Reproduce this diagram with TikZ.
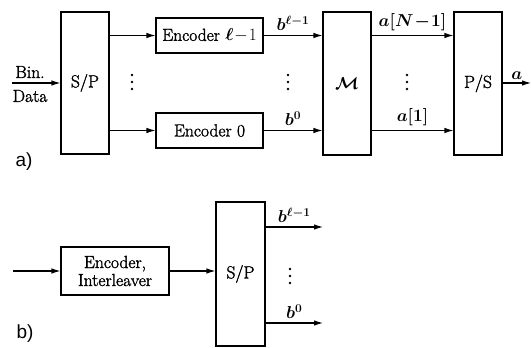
\documentclass[tikz,border=0pt]{standalone}
\usepackage{fontspec}
\usepackage{amsmath}
\newfontfamily\thickrm{Latin Modern Roman}[FakeBold=1.6]
\newfontfamily\labfont{Liberation Sans}
\usetikzlibrary{arrows.meta}
\begin{document}
\begin{tikzpicture}[x=1pt,y=-1pt,
  every node/.style={font=\fontsize{17.5}{19}\selectfont\thickrm, inner sep=0pt},
  blk/.style={draw, line width=1.1pt, rectangle},
  conn/.style={line width=1.1pt, -{Latex[length=9pt,width=5.5pt]}},
  lbl/.style={font=\fontsize{19}{21}\selectfont\labfont},
  vdot/.style={fill, circle, minimum size=2.6pt, inner sep=0pt}]
\useasboundingbox (0,0) rectangle (531,348);
% ---------- a) ----------
\node[blk, minimum width=48pt, minimum height=142pt] (sp) at (85,83) {S/P};
\node[blk, minimum width=107pt, minimum height=35pt] (e1) at (209.5,35.5) {Encoder $\boldsymbol{\ell}\!-\!1$};
\node[blk, minimum width=107pt, minimum height=35pt] (e0) at (209.5,130.5) {Encoder 0};
\node[blk, minimum width=48pt, minimum height=143pt] (m) at (347,83.5) {$\boldsymbol{\mathcal{M}}$};
\node[blk, minimum width=48pt, minimum height=143pt] (ps) at (478,83.5) {P/S};
\coordinate (in) at (12,83);
\coordinate (out) at (531,83);
\node (bin) at (30,72) {Bin.};
\node (data) at (30,96) {Data};
\draw[conn] (in) -- (sp.west |- in);
\draw[conn] (sp.east |- e1.west) -- (e1.west);
\draw[conn] (sp.east |- e0.west) -- (e0.west);
\draw[conn] (e1.east) -- node[above=4pt] (b1) {$\boldsymbol{b^{\ell-1}}$} (m.west |- e1.east);
\draw[conn] (e0.east) -- node[above=4pt] (b0) {$\boldsymbol{b^{0}}$} (m.west |- e0.east);
\draw[conn] (m.east |- e1.east) -- node[above=4pt] (aN) {$\boldsymbol{a[N\!-\!1]}$} (ps.west |- e1.east);
\draw[conn] (m.east |- e0.east) -- node[above=4pt] (a1) {$\boldsymbol{a[1]}$} (ps.west |- e0.east);
\draw[conn] (ps.east |- out) -- node[above=3pt] (aout) {$\boldsymbol{a}$} (out);
\foreach \x/\n in {132/d1,288/d2,407/d3}{
  \node[vdot] (\n a) at (\x,75) {};
  \node[vdot] (\n b) at (\x,82) {};
  \node[vdot] (\n c) at (\x,89) {};
}
\node[lbl] (la) at (24,162) {a)};
% ---------- b) ----------
\node[blk, minimum width=108pt, minimum height=48pt, align=center] (enc) at (115,271) {Encoder,\\[-1pt]Interleaver};
\node[blk, minimum width=49pt, minimum height=144pt] (spb) at (240.5,274) {S/P};
\coordinate (inb) at (13,271);
\coordinate (ob1) at (323,227);
\coordinate (ob0) at (323,323);
\draw[conn] (inb) -- (enc.west);
\draw[conn] (enc.east) -- (spb.west |- enc.east);
\draw[conn] (spb.east |- ob1) -- node[above=4pt] (bb1) {$\boldsymbol{b^{\ell-1}}$} (ob1);
\draw[conn] (spb.east |- ob0) -- node[above=4pt] (bb0) {$\boldsymbol{b^{0}}$} (ob0);
\node[vdot] (d4a) at (290,269) {};
\node[vdot] (d4b) at (290,276) {};
\node[vdot] (d4c) at (290,283) {};
\node[lbl] (lb) at (25,334) {b)};
\end{tikzpicture}
\end{document}
